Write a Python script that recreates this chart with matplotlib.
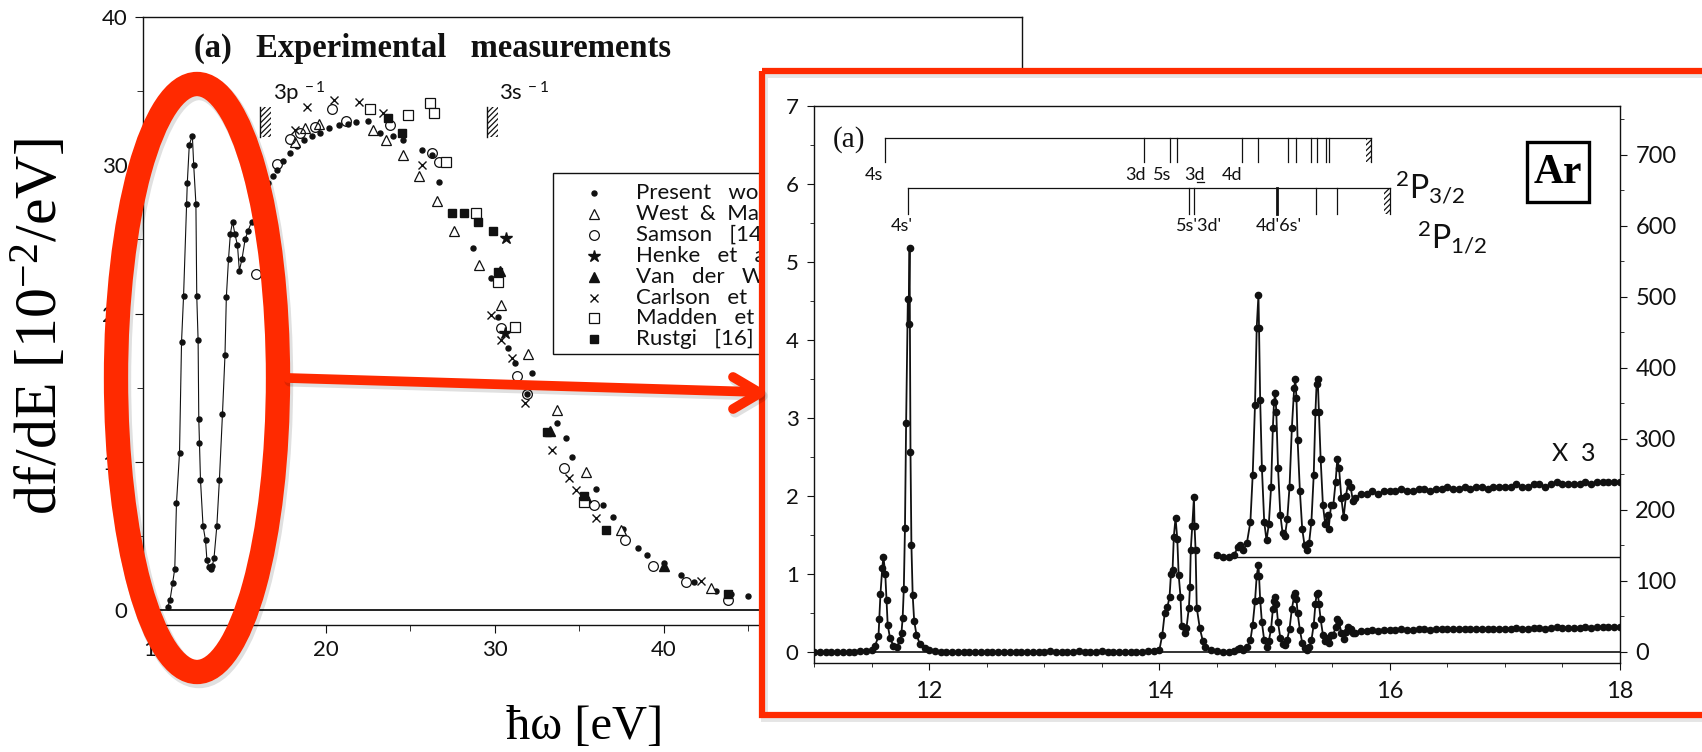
import matplotlib
matplotlib.use('Agg')
import matplotlib.pyplot as plt
import matplotlib.patches as patches
from matplotlib.ticker import MultipleLocator

W, H = 1702, 752
RED = '#FF2A00'
INK = '#111111'

plt.rcParams['font.family'] = ['Lato', 'DejaVu Sans']
plt.rcParams['mathtext.fontset'] = 'custom'
plt.rcParams['mathtext.rm'] = 'Liberation Serif'
plt.rcParams['mathtext.it'] = 'Liberation Serif:italic'
plt.rcParams['mathtext.sf'] = 'Lato'
plt.rcParams['hatch.linewidth'] = 0.9

# ---------------- background chart: df/dE of Ar, experiments ----------------
# present work, joined by a line up to 15.6 eV, then dots only
present_x = [10.65, 10.80, 10.95, 11.08, 11.18, 11.36, 11.48, 11.60, 11.78, 11.82, 11.94,
             12.12, 12.20, 12.33, 12.38, 12.46, 12.50, 12.54, 12.60, 12.75, 12.90, 12.98,
             13.10, 13.20, 13.30, 13.40, 13.57, 13.72, 13.90, 14.05, 14.13, 14.26, 14.37,
             14.50, 14.63, 14.79, 14.90, 15.06, 15.24, 15.42, 15.63,
             15.80, 16.00, 16.30, 16.60, 16.90, 17.10, 17.50, 17.90, 18.30, 18.70, 19.20,
             19.70, 20.20, 20.80, 21.30, 21.80, 22.50, 23.20, 24.00, 24.60, 25.70, 26.30,
             26.70, 28.70, 29.80, 30.20, 30.80, 31.20, 31.90, 32.20, 33.70, 34.20, 34.60,
             36.00, 36.40, 37.00, 37.60, 38.50, 39.00, 40.00, 41.00, 41.80, 43.10, 44.00, 45.00]
present_y = [0.2, 0.7, 1.8, 2.8, 7.2, 10.6, 18.1, 21.2, 27.4, 28.8, 31.4,
             32.0, 30.0, 27.4, 21.2, 18.2, 12.9, 11.3, 8.8, 5.7, 4.7, 3.4,
             2.9, 2.8, 3.0, 3.5, 5.7, 8.8, 13.2, 17.2, 21.1, 23.7, 25.4,
             26.2, 25.4, 24.6, 22.9, 23.7, 25.0, 25.6, 26.2,
             26.8, 27.6, 28.2, 28.8, 29.3, 29.7, 30.3, 30.8, 31.3, 31.7, 32.0,
             32.2, 32.5, 32.7, 32.8, 32.9, 33.0, 32.2, 32.0, 31.7, 31.0, 30.7,
             28.9, 24.4, 22.4, 19.8, 17.7, 16.7, 14.6, 16.0, 12.6, 11.6, 10.3,
             8.2, 7.1, 6.3, 5.5, 4.2, 3.7, 3.2, 2.4, 1.9, 1.3, 1.1, 0.95]
N_JOINED = 41

west_x = [18.2, 18.8, 19.6, 22.8, 23.6, 24.6, 25.5, 26.6, 27.6, 29.1, 30.4, 32.0, 33.7, 35.4, 37.5, 42.8]
west_y = [31.6, 32.5, 32.8, 32.4, 31.7, 30.7, 29.3, 27.6, 25.6, 23.3, 20.6, 17.3, 13.5, 9.3, 5.4, 1.5]
samson_x = [15.9, 17.1, 17.9, 18.5, 19.4, 20.4, 21.2, 23.8, 26.3, 26.7, 30.4, 31.3, 31.9, 34.1, 35.9, 37.7, 39.4, 41.3, 43.8]
samson_y = [22.7, 30.1, 31.8, 32.2, 32.6, 33.8, 33.0, 32.7, 30.8, 30.2, 19.0, 15.8, 14.6, 9.6, 7.1, 4.7, 3.0, 1.9, 0.7]
henke_x = [30.7, 30.6]
henke_y = [25.1, 18.7]
wiel_x = [30.3, 33.3, 35.4, 40.0]
wiel_y = [22.9, 12.1, 7.6, 3.0]
carlson_x = [18.2, 18.9, 20.5, 22.0, 23.4, 25.7, 29.8, 30.4, 31.0, 31.8, 33.4, 34.4, 34.8, 36.0, 42.2]
carlson_y = [32.4, 33.9, 34.4, 34.3, 33.5, 30.0, 19.9, 18.2, 17.0, 14.0, 10.8, 8.9, 8.1, 6.2, 2.0]
madden_x = [22.6, 24.9, 26.2, 26.4, 27.1, 28.9, 30.2, 31.2, 35.3]
madden_y = [33.8, 33.4, 34.2, 33.5, 30.2, 26.8, 22.1, 19.1, 7.3]
rustgi_x = [23.7, 24.5, 27.5, 28.2, 29.0, 29.9, 30.2, 33.1, 35.3, 36.6, 43.8]
rustgi_y = [33.2, 32.2, 26.8, 26.8, 26.2, 25.6, 22.8, 12.0, 7.7, 5.4, 1.1]

legend_labels = ['Present   work', 'West  &  Marr  [13]', 'Samson   [14]', 'Henke   et   al',
                 'Van   der   Wiel', 'Carlson   et   al', 'Madden   et   al', 'Rustgi   [16]']
thresholds = [('3p', 16.15), ('3s', 29.53)]

# ---------------- inset: Ar photoabsorption 11-18 eV ----------------
ar_x = [11.00, 11.05, 11.10, 11.15, 11.20, 11.25, 11.30, 11.35, 11.40, 11.45, 11.50, 11.53,
        11.56, 11.567, 11.577, 11.593, 11.603, 11.619, 11.63, 11.64, 11.66, 11.69, 11.72,
        11.75, 11.76, 11.77, 11.78, 11.79, 11.80, 11.815, 11.822, 11.83, 11.838, 11.846,
        11.857, 11.87, 11.89, 11.92, 11.96, 12.00,
        12.05, 12.10, 12.15, 12.20, 12.25, 12.30, 12.35, 12.40, 12.45, 12.50, 12.55, 12.60,
        12.65, 12.70, 12.75, 12.80, 12.85, 12.90, 12.95, 13.00, 13.05, 13.10, 13.15, 13.20,
        13.25, 13.30, 13.35, 13.40, 13.45, 13.50, 13.55, 13.60, 13.65, 13.70, 13.75, 13.80,
        13.85, 13.90, 13.95,
        14.00, 14.025, 14.046, 14.07, 14.088, 14.10, 14.114, 14.125, 14.14, 14.155, 14.167,
        14.183, 14.193, 14.22, 14.235, 14.256, 14.265, 14.272, 14.285, 14.30, 14.305, 14.314,
        14.324, 14.35, 14.377, 14.40, 14.45, 14.50, 14.55, 14.60, 14.65, 14.68, 14.70, 14.73,
        14.76, 14.79, 14.81, 14.83, 14.845, 14.86, 14.865, 14.875, 14.89, 14.91, 14.93, 14.95,
        14.97, 14.985, 14.995, 15.005, 15.015, 15.03, 15.05, 15.07, 15.09, 15.11, 15.13, 15.15,
        15.17, 15.18, 15.19, 15.20, 15.22, 15.24, 15.26, 15.28, 15.30, 15.32, 15.34, 15.355,
        15.365, 15.375, 15.385, 15.40, 15.42, 15.44, 15.46, 15.47, 15.49, 15.51, 15.53, 15.545,
        15.56, 15.58, 15.60, 15.62, 15.64, 15.66, 15.68, 15.70, 15.75,
        15.80, 15.85, 15.90, 15.95, 16.00, 16.05, 16.10, 16.15, 16.20, 16.25, 16.30, 16.35,
        16.40, 16.45, 16.50, 16.55, 16.60, 16.65, 16.70, 16.75, 16.80, 16.85, 16.90, 16.95,
        17.00, 17.05, 17.10, 17.15, 17.20, 17.25, 17.30, 17.35, 17.40, 17.45, 17.50, 17.55,
        17.60, 17.65, 17.70, 17.75, 17.80, 17.85, 17.90, 17.95, 18.00]
ar_y = [0.00, 0.00, 0.00, 0.00, 0.00, 0.00, 0.00, 0.00, 0.01, 0.01, 0.03, 0.08,
        0.20, 0.42, 0.74, 1.08, 1.22, 1.00, 0.67, 0.35, 0.18, 0.08, 0.07,
        0.15, 0.25, 0.44, 0.81, 1.59, 2.93, 4.52, 4.20, 5.18, 2.56, 1.37,
        0.73, 0.40, 0.22, 0.10, 0.05, 0.02,
        0.01, 0.00, 0.00, 0.00, 0.00, 0.00, 0.00, 0.00, 0.00, 0.00, 0.00, 0.00,
        0.00, 0.00, 0.00, 0.00, 0.00, 0.00, 0.00, 0.00, 0.01, 0.00, 0.00, 0.00,
        0.00, 0.01, 0.00, 0.00, 0.00, 0.01, 0.00, 0.00, 0.00, 0.00, 0.00, 0.00,
        0.00, 0.01, 0.01,
        0.03, 0.22, 0.50, 0.58, 0.71, 1.00, 1.05, 1.48, 1.72, 1.45, 0.99,
        0.71, 0.33, 0.24, 0.31, 0.57, 0.83, 1.31, 1.61, 1.99, 1.61, 1.31,
        0.57, 0.31, 0.14, 0.07, 0.02, 0.01, 0.00, 0.00, 0.01, 0.04, 0.05, 0.03,
        0.06, 0.15, 0.35, 0.65, 0.98, 1.12, 0.98, 0.67, 0.38, 0.15, 0.07, 0.14,
        0.30, 0.55, 0.66, 0.70, 0.62, 0.38, 0.18, 0.10, 0.09, 0.16, 0.30, 0.55,
        0.72, 0.76, 0.68, 0.50, 0.28, 0.12, 0.05, 0.03, 0.06, 0.15, 0.35, 0.62,
        0.74, 0.76, 0.62, 0.42, 0.22, 0.14, 0.18, 0.12, 0.22, 0.22, 0.32, 0.42,
        0.38, 0.25, 0.17, 0.26, 0.32, 0.30, 0.24, 0.25, 0.27,
        0.27, 0.28, 0.27, 0.28, 0.28, 0.28, 0.29, 0.28, 0.28, 0.29, 0.29, 0.28,
        0.29, 0.29, 0.30, 0.29, 0.29, 0.30, 0.29, 0.30, 0.30, 0.29, 0.30, 0.30,
        0.30, 0.30, 0.31, 0.30, 0.30, 0.31, 0.31, 0.30, 0.31, 0.32, 0.31, 0.31,
        0.31, 0.31, 0.32, 0.31, 0.32, 0.32, 0.32, 0.32, 0.32]
X3_START = 14.47     # magnified copy starts here
X3_OFFSET = 1.22     # its baseline on the left scale
X3_FACTOR = 3

# level series (eV) for the two ionic cores
p32_lines = [11.62, 13.87, 14.09, 14.15, 14.72, 14.86, 15.12, 15.19, 15.32, 15.37, 15.45, 15.47]
p32_limit = 15.79
p12_lines = [11.82, 14.26, 14.30, 15.02, 15.36, 15.54]
p12_limit = 15.95
p32_labels = [('4s', 11.52), ('3d', 13.79), ('5s', 14.02), ('3d', 14.30), ('4d', 14.63)]
p12_labels = [("4s'", 11.76), ("5s'3d'", 14.34), ("4d'6s'", 15.04)]


def px_rect(left, top, right, bottom):
    return [left / W, 1 - bottom / H, (right - left) / W, (bottom - top) / H]


fig = plt.figure(figsize=(W / 100, H / 100), dpi=100)

# ---------- left chart ----------
ax = fig.add_axes(px_rect(143, 17, 1022, 625), zorder=0)
ax.set_xlim(9.2, 61.2)
ax.set_ylim(-1.0, 40.0)
ax.xaxis.set_major_locator(MultipleLocator(10))
ax.xaxis.set_minor_locator(MultipleLocator(5))
ax.yaxis.set_major_locator(MultipleLocator(10))
ax.yaxis.set_minor_locator(MultipleLocator(5))
ax.tick_params(which='both', direction='out', color=INK, labelsize=16, labelcolor=INK, pad=5)
ax.tick_params(which='major', length=6)
ax.tick_params(which='minor', length=4)
for s in ax.spines.values():
    s.set_color(INK)
    s.set_linewidth(1.0)
ax.axhline(0, color=INK, lw=1.3)

ax.plot(present_x[:N_JOINED], present_y[:N_JOINED], '-', color=INK, lw=0.8)
ax.plot(present_x, present_y, 'o', color=INK, ms=3.6, ls='none')
ax.plot(west_x, west_y, '^', mfc='white', mec=INK, mew=0.9, ms=6.5, ls='none')
ax.plot(samson_x, samson_y, 'o', mfc='none', mec=INK, mew=0.9, ms=7, ls='none')
ax.plot(henke_x, henke_y, '*', color=INK, ms=9, ls='none')
ax.plot(wiel_x, wiel_y, '^', color=INK, ms=7, ls='none')
ax.plot(carlson_x, carlson_y, 'x', color=INK, mew=1.0, ms=6, ls='none')
ax.plot(madden_x, madden_y, 's', mfc='white', mec=INK, mew=0.9, ms=7, ls='none')
ax.plot(rustgi_x, rustgi_y, 's', color=INK, ms=5.5, ls='none')

# ionisation thresholds with hatched marks
for name, xt in thresholds:
    ax.add_patch(patches.Rectangle((xt, 31.9), 0.65, 2.0, fill=False, hatch='//////',
                                   edgecolor=INK, lw=0))
    ax.plot([xt, xt], [31.9, 33.9], color=INK, lw=1.0)
    ax.text(xt + 0.75, 34.4, name + r'$\mathsf{^{\ -1}}$', fontsize=16, color=INK)

fig.text(432 / W, 1 - 48 / H, '(a)   Experimental   measurements', family='Liberation Serif',
         weight='bold', fontsize=23.5, ha='center', va='center', color=INK)
fig.text(40 / W, 1 - 326 / H, r'df/dE [10$^{-2}$/eV]', family='Liberation Serif',
         fontsize=43, rotation=90, ha='center', va='center', color='black')
fig.text(585 / W, 1 - 727 / H, 'ħω [eV]', family='Liberation Serif', fontsize=35,
         ha='center', va='center', color='black')

# ---------- overlays (legend, white panel, red marks) ----------
bg = fig.add_axes([0, 0, 1, 1], zorder=1)
bg.set_xlim(0, W)
bg.set_ylim(H, 0)
bg.axis('off')

bg.add_patch(patches.Rectangle((553, 173), 320, 181, fill=False, edgecolor=INK, lw=1.0))
legend_styles = [dict(marker='o', color=INK, ms=3.6),
                 dict(marker='^', mfc='white', mec=INK, mew=0.9, ms=6.5),
                 dict(marker='o', mfc='none', mec=INK, mew=0.9, ms=7),
                 dict(marker='*', color=INK, ms=9),
                 dict(marker='^', color=INK, ms=7),
                 dict(marker='x', color=INK, mew=1.0, ms=6),
                 dict(marker='s', mfc='white', mec=INK, mew=0.9, ms=7),
                 dict(marker='s', color=INK, ms=5.5)]
for i, (lab, st) in enumerate(zip(legend_labels, legend_styles)):
    yy = 193 + i * 20.9
    bg.plot([594], [yy], ls='none', **st)
    bg.text(636, yy, lab, fontsize=16, va='center', color=INK)

bg.add_patch(patches.Rectangle((759, 68), 980, 650, facecolor='white', edgecolor='none', zorder=5))

# ---------- inset chart ----------
ax2 = fig.add_axes(px_rect(814, 106, 1620, 663), zorder=5)
ax2.patch.set_visible(False)
ax2.set_xlim(11, 18)
ax2.set_ylim(-0.141, 7.0)
ax2.xaxis.set_major_locator(MultipleLocator(2))
ax2.xaxis.set_minor_locator(MultipleLocator(0.5))
ax2.yaxis.set_major_locator(MultipleLocator(1))
ax2.yaxis.set_minor_locator(MultipleLocator(0.5))
ax2.tick_params(which='both', direction='out', color=INK, labelcolor=INK, right=False)
ax2.tick_params(axis='x', labelsize=17, pad=8)
ax2.tick_params(axis='y', labelsize=16, pad=6)
ax2.tick_params(which='major', length=5)
ax2.tick_params(which='minor', length=3)
for s in ax2.spines.values():
    s.set_color(INK)
    s.set_linewidth(1.0)

ax3 = ax2.twinx()
ax3.set_zorder(6)
ax3.patch.set_visible(False)
ax3.set_ylim(-15.5, 769)
ax3.yaxis.set_major_locator(MultipleLocator(100))
ax3.yaxis.set_minor_locator(MultipleLocator(50))
ax3.tick_params(which='both', direction='out', color=INK, labelcolor=INK, labelsize=17, pad=6)
ax3.tick_params(which='major', length=5)
ax3.tick_params(which='minor', length=3)
for s in ax3.spines.values():
    s.set_visible(False)

ax2.axhline(0, color=INK, lw=1.2)
ax2.plot(ar_x, ar_y, '-', color=INK, lw=1.3)
ax2.plot(ar_x, ar_y, 'o', color=INK, ms=4.5, ls='none')

# magnified (x 3) copy of the structure above the ionisation threshold
up_x = [x for x in ar_x if x >= X3_START]
up_y = [X3_OFFSET + X3_FACTOR * y for x, y in zip(ar_x, ar_y) if x >= X3_START]
ax2.plot([X3_START, 18], [X3_OFFSET, X3_OFFSET], color=INK, lw=1.0)
ax2.plot(up_x, up_y, '-', color=INK, lw=1.3)
ax2.plot(up_x, up_y, 'o', color=INK, ms=4.5, ls='none')
ax2.text(17.41, 2.54, 'X  3', fontsize=18, va='center', color=INK)


# Rydberg series markers
def level_series(lines, limit, y_top, y_bot, thick=()):
    ax2.plot([lines[0], limit + 0.05], [y_top, y_top], color=INK, lw=0.9)
    for xl in lines:
        ax2.plot([xl, xl], [y_bot, y_top], color=INK, lw=2.0 if xl in thick else 0.9)
    ax2.add_patch(patches.Rectangle((limit, y_bot), 0.05, y_top - y_bot, fill=False,
                                    hatch='//////', edgecolor=INK, lw=0))
    ax2.plot([limit + 0.05, limit + 0.05], [y_bot, y_top], color=INK, lw=0.9)


level_series(p32_lines, p32_limit, 6.59, 6.28)
level_series(p12_lines, p12_limit, 5.95, 5.62, thick=(15.02,))
for lab, xl in p32_labels:
    ax2.text(xl, 6.12, lab, fontsize=13, ha='center', va='center', color=INK)
ax2.plot([14.33, 14.39], [6.02, 6.02], color=INK, lw=0.9)
for lab, xl in p12_labels:
    ax2.text(xl, 5.46, lab, fontsize=13, ha='center', va='center', color=INK)
ax2.text(16.05, 5.81, r'$\mathsf{^2P_{3/2}}$', fontsize=23, color=INK)
ax2.text(16.24, 5.17, r'$\mathsf{^2P_{1/2}}$', fontsize=23, color=INK)
ax2.text(11.16, 6.57, '(a)', family='Liberation Serif', fontsize=21, va='center', color=INK)

# ---------- red highlight marks ----------
fg = fig.add_axes([0, 0, 1, 1], zorder=10)
fg.set_xlim(0, W)
fg.set_ylim(H, 0)
fg.axis('off')
fg.patch.set_visible(False)

fg.add_patch(patches.Rectangle((1527, 142), 62, 60, fill=False, edgecolor='black', lw=2.4))
fg.text(1558, 173, 'Ar', family='Liberation Serif', weight='bold', fontsize=30,
        ha='center', va='center', color='black')

# soft drop shadows, then the red marks themselves
fg.add_patch(patches.Ellipse((199, 381), 162, 588, fill=False, edgecolor='#000000',
                             alpha=0.12, lw=19))
fg.add_patch(patches.Rectangle((764, 74), 980, 644, fill=False, edgecolor='#000000',
                               alpha=0.10, lw=5))
fg.plot([290, 760], [381, 395], color='#000000', alpha=0.12, lw=8, solid_capstyle='round')
fg.plot([735, 762, 735], [380, 396, 412], color='#000000', alpha=0.12, lw=8,
        solid_capstyle='round', solid_joinstyle='round')

fg.add_patch(patches.Ellipse((197, 378), 162, 588, fill=False, edgecolor=RED, lw=17.5))
fg.add_patch(patches.Rectangle((762, 71), 980, 644, fill=False, edgecolor=RED, lw=4.5))
fg.plot([288, 758], [378, 392], color=RED, lw=7, solid_capstyle='round')
fg.plot([733, 760, 733], [377, 393, 409], color=RED, lw=7, solid_capstyle='round',
        solid_joinstyle='round')

fig.savefig('out.png', dpi=100)
